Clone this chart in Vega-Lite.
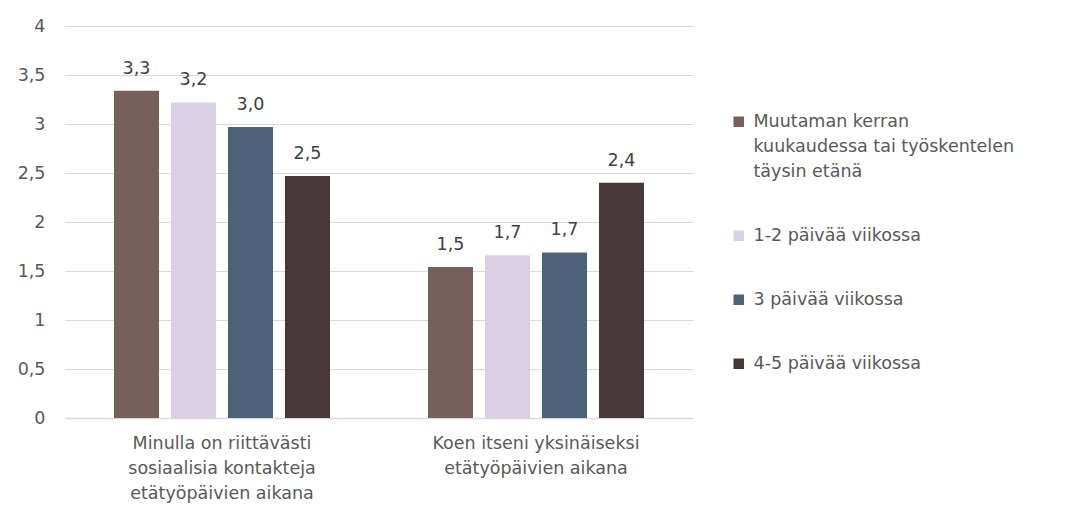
{
  "$schema": "https://vega.github.io/schema/vega-lite/v6.json",
  "width": 628,
  "height": 392,
  "autosize": {"type": "none"},
  "padding": {"left": 65, "top": 26, "right": 391, "bottom": 92},
  "background": "white",
  "data": {
    "values": [
      {"kysymys": "Minulla on riittävästi sosiaalisia kontakteja etätyöpäivien aikana", "ryhma": "Muutaman kerran kuukaudessa tai työskentelen täysin etänä", "arvo": 3.34},
      {"kysymys": "Minulla on riittävästi sosiaalisia kontakteja etätyöpäivien aikana", "ryhma": "1-2 päivää viikossa", "arvo": 3.22},
      {"kysymys": "Minulla on riittävästi sosiaalisia kontakteja etätyöpäivien aikana", "ryhma": "3 päivää viikossa", "arvo": 2.97},
      {"kysymys": "Minulla on riittävästi sosiaalisia kontakteja etätyöpäivien aikana", "ryhma": "4-5 päivää viikossa", "arvo": 2.47},
      {"kysymys": "Koen itseni yksinäiseksi etätyöpäivien aikana", "ryhma": "Muutaman kerran kuukaudessa tai työskentelen täysin etänä", "arvo": 1.54},
      {"kysymys": "Koen itseni yksinäiseksi etätyöpäivien aikana", "ryhma": "1-2 päivää viikossa", "arvo": 1.66},
      {"kysymys": "Koen itseni yksinäiseksi etätyöpäivien aikana", "ryhma": "3 päivää viikossa", "arvo": 1.69},
      {"kysymys": "Koen itseni yksinäiseksi etätyöpäivien aikana", "ryhma": "4-5 päivää viikossa", "arvo": 2.4}
    ]
  },
  "encoding": {
    "x": {
      "field": "kysymys",
      "type": "nominal",
      "sort": null,
      "scale": {"paddingInner": 0.312, "paddingOuter": 0.156},
      "axis": {
        "title": null,
        "labelAngle": 0,
        "labelFont": "DejaVu Sans",
        "labelFontSize": 17.5,
        "labelColor": "#595959",
        "labelLineHeight": 25,
        "labelPadding": 16,
        "labelLimit": 400,
        "labelExpr": "datum.label == 'Minulla on riittävästi sosiaalisia kontakteja etätyöpäivien aikana' ? ['Minulla on riittävästi', 'sosiaalisia kontakteja', 'etätyöpäivien aikana'] : ['Koen itseni yksinäiseksi', 'etätyöpäivien aikana']",
        "ticks": false,
        "domainColor": "#d9d9d9",
        "domainWidth": 1.5,
        "grid": false
      }
    },
    "xOffset": {
      "field": "ryhma",
      "type": "nominal",
      "sort": null,
      "scale": {"paddingInner": 0.21, "paddingOuter": 0}
    },
    "y": {
      "field": "arvo",
      "type": "quantitative",
      "scale": {"domain": [0, 4]},
      "axis": {
        "title": null,
        "values": [0, 0.5, 1, 1.5, 2, 2.5, 3, 3.5, 4],
        "labelExpr": "replace(toString(datum.value), '.', ',')",
        "labelFont": "DejaVu Sans",
        "labelFontSize": 17.5,
        "labelColor": "#595959",
        "labelPadding": 20,
        "ticks": false,
        "domain": false,
        "gridColor": "#d9d9d9",
        "gridWidth": 1
      }
    }
  },
  "layer": [
    {
      "mark": {"type": "bar"},
      "encoding": {
        "color": {
          "field": "ryhma",
          "type": "nominal",
          "sort": null,
          "scale": {
            "domain": ["Muutaman kerran kuukaudessa tai työskentelen täysin etänä", "1-2 päivää viikossa", "3 päivää viikossa", "4-5 päivää viikossa"],
            "range": ["#775f5d", "#dacfe2", "#4c6279", "#473939"]
          },
          "legend": {
            "title": null,
            "orient": "none",
            "legendX": 665,
            "legendY": 87,
            "symbolType": "square",
            "symbolSize": 110,
            "symbolStrokeWidth": 0,
            "labelFont": "DejaVu Sans",
            "labelFontSize": 17.5,
            "labelColor": "#595959",
            "labelLimit": 400,
            "labelOffset": 6,
            "rowPadding": 45,
            "labelExpr": "datum.label == 'Muutaman kerran kuukaudessa tai työskentelen täysin etänä' ? ['Muutaman kerran', 'kuukaudessa tai työskentelen', 'täysin etänä'] : datum.label"
          }
        }
      }
    },
    {
      "mark": {"type": "text", "baseline": "bottom", "dy": -13, "font": "DejaVu Sans", "fontSize": 17.5, "color": "#404040"},
      "encoding": {
        "text": {"field": "arvo", "type": "quantitative", "format": ".1f"}
      }
    }
  ],
  "config": {
    "view": {"stroke": null},
    "style": {"guide-label": {"lineHeight": 25}},
    "locale": {"number": {"decimal": ",", "thousands": " ", "grouping": [3], "currency": ["", " €"]}}
  }
}
